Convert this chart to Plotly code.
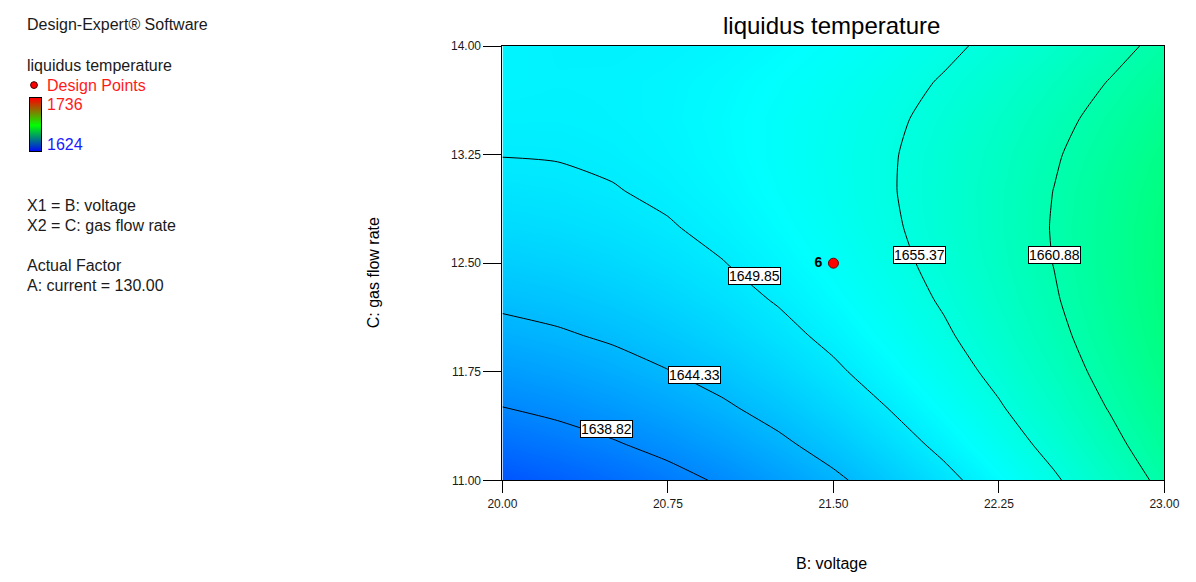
import plotly.graph_objects as go

W, H = 1196, 582

# ---------------- data ----------------
voltage = [20.0, 20.25, 20.5, 20.75, 21.0, 21.25, 21.5, 21.75, 22.0, 22.25, 22.5, 22.75, 23.0]
gas_flow = [11.0, 11.25, 11.5, 11.75, 12.0, 12.25, 12.5, 12.75, 13.0, 13.25, 13.5, 13.75, 14.0]
# liquidus temperature, rows = gas_flow, columns = voltage
liquidus = [
    [1633.27, 1634.46, 1635.86, 1637.49, 1639.32, 1641.38, 1643.65, 1646.14, 1648.84, 1651.77, 1654.90, 1658.26, 1661.83],
    [1636.14, 1637.20, 1638.49, 1639.98, 1641.70, 1643.63, 1645.78, 1648.15, 1650.73, 1653.53, 1656.55, 1659.78, 1663.23],
    [1638.75, 1639.69, 1640.85, 1642.23, 1643.82, 1645.63, 1647.66, 1649.90, 1652.36, 1655.04, 1657.94, 1661.05, 1664.37],
    [1641.11, 1641.93, 1642.97, 1644.22, 1645.69, 1647.38, 1649.29, 1651.41, 1653.74, 1656.30, 1659.07, 1662.06, 1665.27],
    [1643.21, 1643.91, 1644.82, 1645.96, 1647.31, 1648.87, 1650.65, 1652.65, 1654.87, 1657.30, 1659.95, 1662.82, 1665.90],
    [1645.06, 1645.63, 1646.43, 1647.44, 1648.67, 1650.11, 1651.77, 1653.65, 1655.74, 1658.05, 1660.58, 1663.32, 1666.28],
    [1646.65, 1647.11, 1647.78, 1648.67, 1649.77, 1651.09, 1652.63, 1654.39, 1656.36, 1658.55, 1660.95, 1663.57, 1666.41],
    [1647.99, 1648.32, 1648.87, 1649.64, 1650.62, 1651.82, 1653.24, 1654.87, 1656.72, 1658.79, 1661.07, 1663.57, 1666.28],
    [1649.07, 1649.29, 1649.71, 1650.36, 1651.22, 1652.29, 1653.59, 1655.10, 1656.83, 1658.77, 1660.93, 1663.31, 1665.90],
    [1649.91, 1649.99, 1650.30, 1650.82, 1651.56, 1652.51, 1653.69, 1655.07, 1656.68, 1658.50, 1660.54, 1662.79, 1665.27],
    [1650.48, 1650.45, 1650.63, 1651.03, 1651.65, 1652.48, 1653.53, 1654.79, 1656.28, 1657.98, 1659.89, 1662.02, 1664.37],
    [1650.80, 1650.65, 1650.71, 1650.98, 1651.48, 1652.19, 1653.12, 1654.26, 1655.62, 1657.20, 1658.99, 1661.00, 1663.23],
    [1650.87, 1650.59, 1650.53, 1650.69, 1651.06, 1651.64, 1652.45, 1653.47, 1654.71, 1656.17, 1657.84, 1659.72, 1661.83],
]
contour_levels = [1638.82, 1644.33, 1649.85, 1655.37, 1660.88]
label_voltage = [20.47, 20.87, 21.14, 21.89, 22.50]
label_gas = [11.355, 11.73, 12.41, 12.556, 12.556]

design_voltage = [21.5]
design_gas = [12.5]
design_labels = ["6"]

x_ticks = [20.00, 20.75, 21.50, 22.25, 23.00]
y_ticks = [11.00, 11.75, 12.50, 13.25, 14.00]

resp_min, resp_max = 1624, 1736

# ---------------- helpers ----------------
def px(x):
    return x / W

def py(y):
    return 1 - y / H

FONT = "Liberation Sans, Arial, sans-serif"
TXT = "#1a1a1a"

de_scale = [[0.0, "rgb(0,0,255)"], [0.25, "rgb(0,255,255)"], [0.5, "rgb(0,255,0)"],
            [0.75, "rgb(255,255,0)"], [1.0, "rgb(255,0,0)"]]

fig = go.Figure()

step = (contour_levels[-1] - contour_levels[0]) / (len(contour_levels) - 1)
fig.add_trace(go.Contour(
    x=voltage, y=gas_flow, z=liquidus,
    colorscale=de_scale, zmin=resp_min, zmax=resp_max, showscale=False,
    contours=dict(start=contour_levels[0], end=contour_levels[-1], size=step,
                  coloring="heatmap", showlabels=False),
    line=dict(color="black", width=1, smoothing=0.6),
    hoverinfo="skip",
))

fig.add_trace(go.Scatter(
    x=design_voltage, y=design_gas, mode="markers+text",
    text=["<b>%s</b> " % t for t in design_labels], textposition="middle left",
    textfont=dict(family=FONT, size=14, color="black"),
    marker=dict(color="#ff0000", size=10, line=dict(color="#700000", width=1)),
    hoverinfo="skip", showlegend=False,
))

# small legend colour bar
fig.add_trace(go.Heatmap(
    x=[0, 1], y=[0, 1], z=[[resp_min, resp_min], [resp_max, resp_max]],
    colorscale=[[0, "rgb(0,0,255)"], [0.5, "rgb(0,255,0)"], [1, "rgb(255,0,0)"]],
    zsmooth="best", showscale=False, xaxis="x2", yaxis="y2", hoverinfo="skip",
))

annotations = []
for lv, lx, ly in zip(contour_levels, label_voltage, label_gas):
    annotations.append(dict(
        x=lx, y=ly, xref="x", yref="y", text="%.2f" % lv, showarrow=False,
        font=dict(family=FONT, size=14, color="black"),
        bgcolor="white", bordercolor="black", borderwidth=1, borderpad=0,
        xanchor="center", yanchor="middle"))

def txt(x, y, s, color=TXT, size=16, anchor="left", angle=0):
    annotations.append(dict(
        x=px(x), y=py(y), xref="paper", yref="paper", text=s, showarrow=False,
        font=dict(family=FONT, size=size, color=color), xanchor=anchor,
        yanchor="middle", textangle=angle))

txt(10, 18, "Design-Expert® Software")
txt(10, 60, "liquidus temperature")
txt(31, 80, "Design Points", color="#ff1a1a")
txt(31, 100, str(resp_max), color="#ff1a1a")
txt(31, 141, str(resp_min), color="#1a1aff")
txt(10, 203, "X1 = B: voltage")
txt(10, 224, "X2 = C: gas flow rate")
txt(10, 265, "Actual Factor")
txt(10, 285, "A: current = 130.00")

txt(838, 19, "liquidus temperature", color="black", size=24, anchor="center")
txt(838, 570, "B: voltage", color="black", size=16, anchor="center")
txt(368, 272, "C: gas flow rate", color="black", size=16, anchor="center", angle=-90)

fig.add_shape(type="circle", xref="paper", yref="paper",
              x0=px(16), x1=px(23), y0=py(83.5), y1=py(76.5),
              fillcolor="#ff0000", line=dict(color="#400000", width=1))

fig.update_layout(
    width=W, height=H, margin=dict(l=0, r=0, t=0, b=0),
    paper_bgcolor="white", plot_bgcolor="white", showlegend=False,
    font=dict(family=FONT, color=TXT),
    annotations=annotations,
    xaxis=dict(domain=[px(500), px(1179)], anchor="y", range=[20, 23],
               tickvals=x_ticks, ticktext=["%.2f" % v for v in x_ticks],
               ticks="outside", ticklen=12, tickcolor="black", tickwidth=1,
               showline=True, linecolor="black", linewidth=1, mirror=True,
               showgrid=False, zeroline=False,
               tickfont=dict(family=FONT, size=12, color=TXT)),
    yaxis=dict(domain=[py(485), py(40)], anchor="x", range=[11, 14],
               tickvals=y_ticks, ticktext=["%.2f" % v for v in y_ticks],
               ticks="outside", ticklen=18, tickcolor="black", tickwidth=1,
               showline=True, linecolor="black", linewidth=1, mirror=True,
               showgrid=False, zeroline=False,
               tickfont=dict(family=FONT, size=12, color=TXT)),
    xaxis2=dict(domain=[px(15), px(27)], anchor="y2", range=[0, 1],
                showticklabels=False, ticks="", showgrid=False, zeroline=False,
                showline=True, linecolor="black", linewidth=1, mirror=True),
    yaxis2=dict(domain=[py(148), py(93)], anchor="x2", range=[0, 1],
                showticklabels=False, ticks="", showgrid=False, zeroline=False,
                showline=True, linecolor="black", linewidth=1, mirror=True),
)

fig.write_html("out.html")
